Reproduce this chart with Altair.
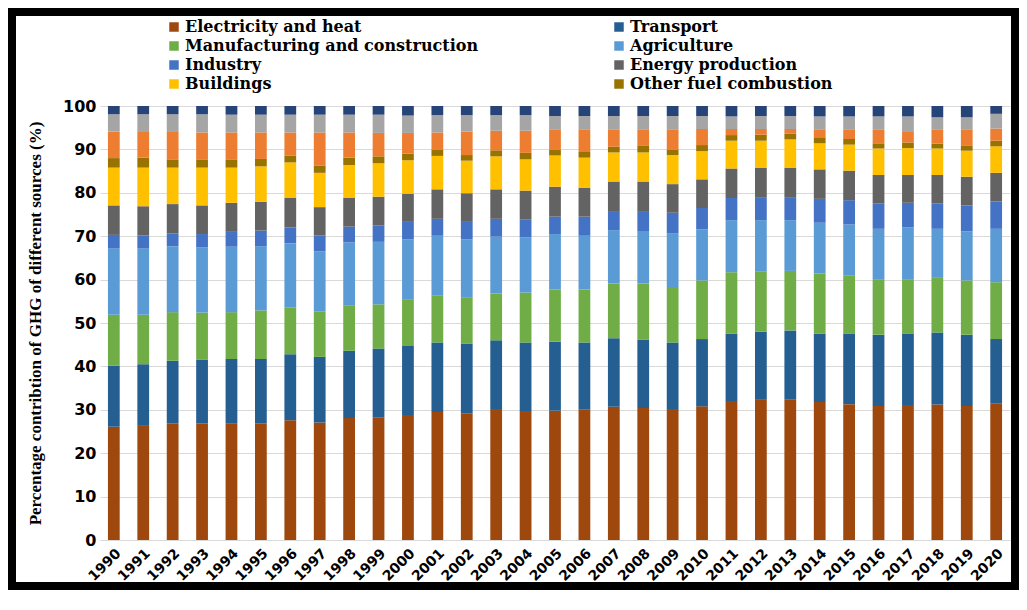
import altair as alt
import pandas as pd

years = [str(y) for y in range(1990, 2021)]

series_names = [
    "Electricity and heat",
    "Transport",
    "Manufacturing and construction",
    "Agriculture",
    "Industry",
    "Energy production",
    "Buildings",
    "Other fuel combustion",
    "Land-use change and forestry",
    "Waste",
    "Bunker fuels",
]
legend_names = series_names[:8]

electricity = [26.1, 26.3, 26.8, 26.8, 26.8, 26.8, 27.6, 27.1, 28.1, 28.3, 28.8, 29.5, 29.2, 30.2, 29.7, 29.8,
               30.0, 30.7, 30.4, 30.2, 30.8, 32.0, 32.3, 32.3, 31.8, 31.3, 30.9, 31.1, 31.2, 30.9, 31.4]
transport = [14.1, 14.2, 14.5, 14.7, 14.9, 14.9, 15.2, 15.1, 15.5, 15.8, 15.9, 16.0, 16.0, 15.8, 15.8, 15.9,
             15.5, 15.8, 15.8, 15.3, 15.5, 15.6, 15.7, 16.0, 15.8, 16.3, 16.4, 16.5, 16.6, 16.4, 14.9]
manufacturing = [11.7, 11.4, 11.2, 10.9, 10.8, 11.2, 10.7, 10.4, 10.5, 10.2, 10.8, 10.9, 10.6, 10.8, 11.5, 12.0,
                 12.2, 12.6, 12.9, 12.8, 13.5, 14.1, 13.8, 13.7, 13.8, 13.4, 12.8, 12.5, 12.6, 12.5, 13.1]
agriculture = [15.3, 15.3, 15.2, 15.0, 15.1, 14.8, 14.9, 13.9, 14.5, 14.4, 13.8, 13.7, 13.5, 13.1, 12.7, 12.8,
               12.4, 12.3, 12.1, 12.3, 11.8, 12.0, 11.9, 11.7, 11.7, 11.7, 11.6, 11.9, 11.3, 11.3, 12.3]
industry = [3.1, 3.0, 2.9, 3.1, 3.4, 3.6, 3.6, 3.7, 3.6, 3.8, 4.0, 3.9, 4.0, 4.1, 4.1, 4.0,
            4.4, 4.4, 4.6, 4.8, 4.9, 5.1, 5.3, 5.3, 5.5, 5.6, 5.8, 5.7, 5.8, 6.0, 6.3]
energy_production = [6.8, 6.7, 6.8, 6.6, 6.7, 6.6, 6.8, 6.5, 6.6, 6.6, 6.5, 6.8, 6.6, 6.8, 6.7, 6.9,
                     6.6, 6.8, 6.8, 6.6, 6.6, 6.8, 6.8, 6.8, 6.8, 6.8, 6.6, 6.4, 6.6, 6.6, 6.6]
buildings = [8.7, 8.9, 8.4, 8.7, 8.1, 8.2, 8.2, 7.9, 7.6, 7.7, 7.7, 7.7, 7.5, 7.6, 7.2, 7.2,
             7.0, 6.7, 6.7, 6.7, 6.5, 6.4, 6.2, 6.5, 6.0, 6.0, 6.1, 6.2, 6.1, 6.0, 6.1]
other_fuel = [2.2, 2.3, 1.9, 1.9, 1.9, 1.7, 1.6, 1.7, 1.7, 1.6, 1.5, 1.5, 1.3, 1.4, 1.5, 1.4,
              1.3, 1.3, 1.5, 1.3, 1.4, 1.3, 1.4, 1.3, 1.4, 1.3, 1.2, 1.3, 1.1, 1.1, 1.3]
land_use = [6.1, 6.1, 6.5, 6.2, 6.2, 6.1, 5.3, 7.6, 5.8, 5.4, 4.8, 3.9, 5.4, 4.5, 5.1, 4.5,
            5.1, 3.9, 3.7, 4.5, 3.7, 1.4, 1.3, 1.1, 1.7, 2.1, 3.1, 2.6, 3.2, 3.7, 2.8]
waste = [4.0, 3.9, 3.9, 4.2, 4.1, 4.1, 4.1, 4.1, 4.1, 4.2, 4.0, 4.0, 3.8, 3.6, 3.6, 3.2,
         3.2, 3.2, 3.2, 3.2, 3.0, 2.9, 3.0, 3.0, 3.1, 3.1, 3.1, 3.4, 2.9, 2.9, 3.4]
bunker_fuels = [1.9, 1.9, 1.9, 1.9, 2.0, 2.0, 2.0, 2.0, 2.0, 2.0, 2.2, 2.1, 2.1, 2.1, 2.1, 2.3,
                2.3, 2.3, 2.3, 2.3, 2.3, 2.4, 2.3, 2.3, 2.4, 2.4, 2.4, 2.4, 2.6, 2.6, 1.8]

series_values = [electricity, transport, manufacturing, agriculture, industry, energy_production,
                 buildings, other_fuel, land_use, waste, bunker_fuels]

colors = ["#9E480E", "#255E91", "#70AD47", "#5B9BD5", "#4472C4", "#636363",
          "#FFC000", "#997300", "#ED7D31", "#A5A5A5", "#264478"]

y_ticks = list(range(0, 101, 10))

rows = []
for si, (name, vals) in enumerate(zip(series_names, series_values)):
    for yr, v in zip(years, vals):
        rows.append({"Year": yr, "Source": name, "Share": v, "order": si})
df = pd.DataFrame(rows)

bars = alt.Chart(df).mark_bar().encode(
    x=alt.X("Year:N", sort=years,
            scale=alt.Scale(paddingInner=0.6, paddingOuter=0.27),
            axis=alt.Axis(title=None, labelAngle=315, labelFont="DejaVu Sans",
                          labelFontWeight="bold", labelFontSize=14, labelColor="black",
                          ticks=False, domainColor="#D9D9D9", labelPadding=6)),
    y=alt.Y("Share:Q", stack="zero",
            scale=alt.Scale(domain=[0, 100], nice=False),
            axis=alt.Axis(title="Percentage contribtion of GHG of different sources (%)",
                          values=y_ticks, labelFont="DejaVu Sans", labelFontWeight="bold",
                          labelFontSize=16, labelColor="black", ticks=False, domain=False,
                          labelPadding=4, gridColor="#D9D9D9", titleFont="Liberation Serif",
                          titleFontWeight="bold", titleFontSize=17, titleColor="black",
                          titlePadding=18)),
    color=alt.Color("Source:N",
                    scale=alt.Scale(domain=series_names, range=colors),
                    legend=alt.Legend(title=None, values=legend_names, orient="none",
                                      direction="horizontal",
                                      legendX=66, legendY=-87, columns=2, columnPadding=132,
                                      rowPadding=3, symbolType="square", symbolSize=90,
                                      symbolStrokeWidth=0, labelFont="DejaVu Serif",
                                      labelFontWeight="bold", labelFontSize=16,
                                      labelColor="black", labelOffset=3, labelLimit=0)),
    order=alt.Order("order:Q", sort="ascending"),
)

frame = alt.Chart(pd.DataFrame({"a": [0]})).mark_rect(
    filled=False, stroke="black", strokeWidth=8
).encode(
    x=alt.value(-88), x2=alt.value(915), y=alt.value(-94), y2=alt.value(480)
)

chart = alt.layer(bars, frame).properties(
    width=910, height=434,
    autosize=alt.AutoSizeParams(type="none"),
    padding={"left": 92, "top": 98, "right": 9, "bottom": 54},
    background="white",
).configure_view(stroke=None)

chart.save("out.html", embed_options={"renderer": "svg", "actions": False})
